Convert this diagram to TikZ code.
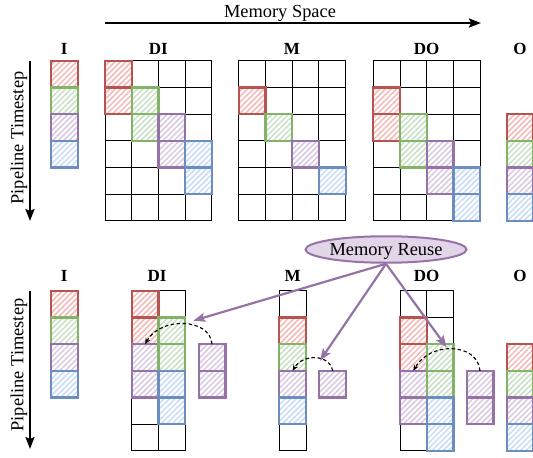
\documentclass[tikz,border=0pt]{standalone}
\usepackage{fontspec}
\setmainfont{Liberation Serif}
\usetikzlibrary{arrows.meta,patterns.meta,shapes.geometric}

\definecolor{rStroke}{HTML}{B85450}\definecolor{rHatch}{HTML}{F4B9B7}
\definecolor{gStroke}{HTML}{82B366}\definecolor{gHatch}{HTML}{C8E0C4}
\definecolor{pStroke}{HTML}{9673A6}\definecolor{pHatch}{HTML}{D8C8E1}
\definecolor{pFill}{HTML}{E1D5E7}
\definecolor{bStroke}{HTML}{6C8EBF}\definecolor{bHatch}{HTML}{C8DCF8}

% one memory cell at column #3, row #4 of the current panel
\newcommand\cell[4]{\node[#1] (#2) at ({#3*26.7},{#4*26.7}) {};}
% an empty grid of #1 columns and #2 rows
\newcommand\blankgrid[2]{%
  \foreach \i in {1,...,#1}{\foreach \j in {1,...,#2}{%
    \node[blank] at ({(\i-1)*26.7},{(\j-1)*26.7}) {};}}}

\tikzset{
  blank/.style={draw=black, line width=1pt, minimum width=26.7pt,
    minimum height=26.7pt, inner sep=0pt, outer sep=0pt, anchor=north west},
  tone/.style n args={2}{minimum width=26.7pt, minimum height=26.7pt,
    inner sep=0pt, outer sep=0pt, anchor=north west,
    pattern={Lines[angle=45,distance=3.9pt,line width=1.5pt]}, pattern color=#2,
    postaction={draw=#1, line width=2.2pt}},
  rc/.style={tone={rStroke}{rHatch}},
  gc/.style={tone={gStroke}{gHatch}},
  pc/.style={tone={pStroke}{pHatch}},
  bc/.style={tone={bStroke}{bHatch}},
  head/.style={font=\fontsize{17}{19}\selectfont\bfseries, inner sep=0pt},
  caption/.style={font=\fontsize{18.4}{20}\selectfont, inner sep=0pt},
  axis/.style={line width=2pt, -{Stealth[length=12pt,width=9pt,inset=2pt]}},
  reuse/.style={line width=2.2pt, draw=pStroke,
    -{Stealth[length=12pt,width=9pt,inset=2.5pt]}},
  move/.style={line width=1.1pt, dash pattern=on 3.5pt off 2.5pt,
    -{Stealth[length=6pt,width=5pt]}},
}

\begin{document}
\begin{tikzpicture}[x=1pt,y=-1pt]
\clip (0,0) rectangle (533,458);
\fill[white] (0,0) rectangle (533,458);

% ---- axes ----
\coordinate (ms1) at (105,23);
\coordinate (ms2) at (481,23);
\draw[axis] (ms1) -- (ms2);
\node[caption, anchor=base] (mstxt) at (280,17) {Memory Space};

\coordinate (pt1) at (30,61);
\coordinate (pb1) at (30,221);
\draw[axis] (pt1) -- (pb1);
\node[caption, rotate=90] (pltxt1) at (19,138) {Pipeline Timestep};

\coordinate (pt2) at (30,291);
\coordinate (pb2) at (30,449);
\draw[axis] (pt2) -- (pb2);
\node[caption, rotate=90] (pltxt2) at (19,365) {Pipeline Timestep};

% ---- upper row: full buffers ----
\node[head] (hI1) at (64.3,48.5) {I};
\node[head] (hDI1) at (158.3,48.5) {DI};
\node[head] (hM1) at (292,48.5) {M};
\node[head] (hDO1) at (426.7,48.5) {DO};
\node[head] (hO1) at (520,48.5) {O};

\begin{scope}[shift={(51,60.7)}]
  \cell{rc}{ui0}{0}{0}\cell{gc}{ui1}{0}{1}\cell{pc}{ui2}{0}{2}\cell{bc}{ui3}{0}{3}
\end{scope}
\begin{scope}[shift={(105,60.7)}]
  \blankgrid{4}{6}
  \cell{rc}{udi0}{0}{0}\cell{rc}{udi1}{0}{1}
  \cell{gc}{udi2}{1}{1}\cell{gc}{udi3}{1}{2}
  \cell{pc}{udi4}{2}{2}\cell{pc}{udi5}{2}{3}
  \cell{bc}{udi6}{3}{3}\cell{bc}{udi7}{3}{4}
\end{scope}
\begin{scope}[shift={(238.8,60.7)}]
  \blankgrid{4}{6}
  \cell{rc}{um0}{0}{1}\cell{gc}{um1}{1}{2}\cell{pc}{um2}{2}{3}\cell{bc}{um3}{3}{4}
\end{scope}
\begin{scope}[shift={(373.3,60.7)}]
  \blankgrid{4}{6}
  \cell{rc}{udo0}{0}{1}\cell{rc}{udo1}{0}{2}
  \cell{gc}{udo2}{1}{2}\cell{gc}{udo3}{1}{3}
  \cell{pc}{udo4}{2}{3}\cell{pc}{udo5}{2}{4}
  \cell{bc}{udo6}{3}{4}\cell{bc}{udo7}{3}{5}
\end{scope}
\begin{scope}[shift={(506.7,60.7)}]
  \cell{rc}{uo0}{0}{2}\cell{gc}{uo1}{0}{3}\cell{pc}{uo2}{0}{4}\cell{bc}{uo3}{0}{5}
\end{scope}

% ---- lower row: reused buffers ----
\node[head] (hI2) at (64.3,275.5) {I};
\node[head] (hDI2) at (157,275.5) {DI};
\node[head] (hM2) at (292.7,275.5) {M};
\node[head] (hDO2) at (426.7,275.5) {DO};
\node[head] (hO2) at (520,275.5) {O};

\begin{scope}[shift={(51,290.7)}]
  \cell{rc}{li0}{0}{0}\cell{gc}{li1}{0}{1}\cell{pc}{li2}{0}{2}\cell{bc}{li3}{0}{3}
\end{scope}
\begin{scope}[shift={(131.7,290.7)}]
  \blankgrid{2}{6}
  \cell{rc}{ldi0}{0}{0}\cell{rc}{ldi1}{0}{1}
  \cell{pc}{ldi4}{0}{2}\cell{pc}{ldi5}{0}{3}
  \cell{gc}{ldi2}{1}{1}\cell{gc}{ldi3}{1}{2}
  \cell{bc}{ldi6}{1}{3}\cell{bc}{ldi7}{1}{4}
\end{scope}
\begin{scope}[shift={(198.7,290.7)}]
  \cell{pc}{xdi0}{0}{2}\cell{pc}{xdi1}{0}{3}
\end{scope}
\begin{scope}[shift={(279.3,290.7)}]
  \blankgrid{1}{6}
  \cell{rc}{lm0}{0}{1}\cell{gc}{lm1}{0}{2}\cell{pc}{lm2}{0}{3}\cell{bc}{lm3}{0}{4}
\end{scope}
\begin{scope}[shift={(319.3,290.7)}]
  \cell{pc}{xm0}{0}{3}
\end{scope}
\begin{scope}[shift={(400,290.7)}]
  \blankgrid{2}{6}
  \cell{rc}{ldo0}{0}{1}\cell{rc}{ldo1}{0}{2}
  \cell{pc}{ldo4}{0}{3}\cell{pc}{ldo5}{0}{4}
  \cell{gc}{ldo2}{1}{2}\cell{gc}{ldo3}{1}{3}
  \cell{bc}{ldo6}{1}{4}\cell{bc}{ldo7}{1}{5}
\end{scope}
\begin{scope}[shift={(466.7,290.7)}]
  \cell{pc}{xdo0}{0}{3}\cell{pc}{xdo1}{0}{4}
\end{scope}
\begin{scope}[shift={(506.7,290.7)}]
  \cell{rc}{lo0}{0}{2}\cell{gc}{lo1}{0}{3}\cell{pc}{lo2}{0}{4}\cell{bc}{lo3}{0}{5}
\end{scope}

% ---- moves of the spilled blocks ----
\draw[move] (xdi0.north) .. controls +(-2,-26) and +(16,-28) .. (ldi4.north);
\draw[move] (xm0.north) .. controls +(-3,-17) and +(10,-17) .. (lm2.north);
\draw[move] (xdo0.north) .. controls +(-3,-29) and +(16,-29) .. (ldo4.north);

% ---- memory reuse callout ----
\node[ellipse, draw=pStroke, fill=pFill, line width=2pt, minimum width=161pt,
  minimum height=26.5pt, inner sep=0pt, caption, text depth=0pt] (mr) at (386,249.5) {Memory Reuse};
\coordinate (ta) at (193.3,320.7);
\coordinate (tb) at (320,360.7);
\coordinate (tc) at (446.7,347.3);
\draw[reuse] (mr.south) -- (ta);
\draw[reuse] (mr.south) -- (tb);
\draw[reuse] (mr.south) -- (tc);
\end{tikzpicture}
\end{document}
